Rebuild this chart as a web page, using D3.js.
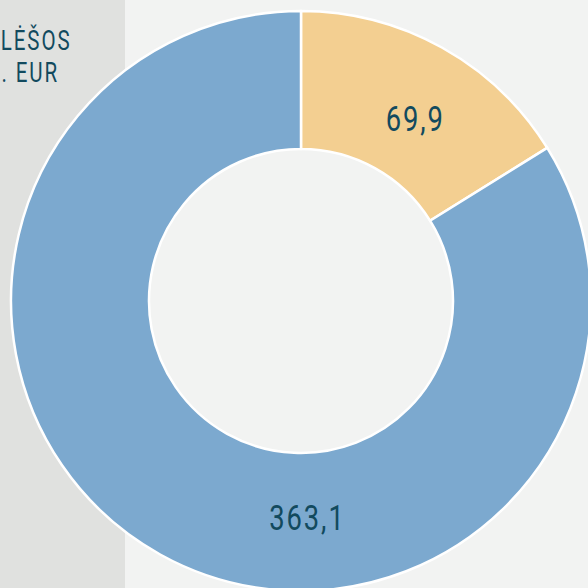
<!DOCTYPE html>
<html><head><meta charset="utf-8">
<script src="https://cdn.jsdelivr.net/npm/d3@7"></script>
<style>html,body{margin:0;padding:0;background:#f2f3f2;}svg{display:block;}</style>
</head><body>
<script>
const categories = ["A", "B"];
const values = [69.9, 363.1];
const valueLabels = ["69,9", "363,1"];
const colors = ["#f3cf91", "#7ca9cf"];
const titleLines = ["LĖŠOS", ". EUR"];

const W = 588, H = 588;
const svg = d3.select("body").append("svg").attr("width", W).attr("height", H);
svg.append("rect").attr("width", W).attr("height", H).attr("fill", "#f2f3f2");
svg.append("rect").attr("width", 125).attr("height", H).attr("fill", "#e0e1df");

const font = "Roboto, 'Noto Sans', sans-serif";
const textColor = "#124a5e";
const sx = 0.76;

svg.selectAll("text.title").data(titleLines).join("text")
  .attr("class", "title")
  .attr("transform", (d, i) => `translate(${i === 0 ? 71.5 : 59},${50 + i * 32}) scale(${sx},1)`)
  .attr("text-anchor", "end")
  .attr("font-family", font).attr("font-size", 27)
  .attr("letter-spacing", 2.5)
  .attr("fill", textColor).text(d => d);

const cx = 301, cy = 301, rOuter = 290, rInner = 152;
const pie = d3.pie().sort(null).value(d => d.v);
const data = pie(categories.map((c, i) => ({c, v: values[i], label: valueLabels[i], color: colors[i]})));
const arc = d3.arc().innerRadius(rInner).outerRadius(rOuter);
const g = svg.append("g").attr("transform", `translate(${cx},${cy})`);
g.selectAll("path").data(data).join("path")
  .attr("d", arc).attr("fill", d => d.data.color)
  .attr("stroke", "#ffffff").attr("stroke-width", 2.5);

const labelR = 216;
g.selectAll("text.val").data(data).join("text")
  .attr("class", "val")
  .attr("transform", (d, i) => {
    const a = i === 0 ? (d.startAngle + d.endAngle) / 2 + 0.05 : Math.PI - 0.03;
    return `translate(${labelR * Math.sin(a)},${-labelR * Math.cos(a)}) scale(${sx},1)`;
  })
  .attr("text-anchor", "middle").attr("dy", "0.36em")
  .attr("font-family", font).attr("font-size", 36)
  .attr("letter-spacing", 2.5)
  .attr("fill", textColor).text(d => d.data.label);
</script>
</body></html>
